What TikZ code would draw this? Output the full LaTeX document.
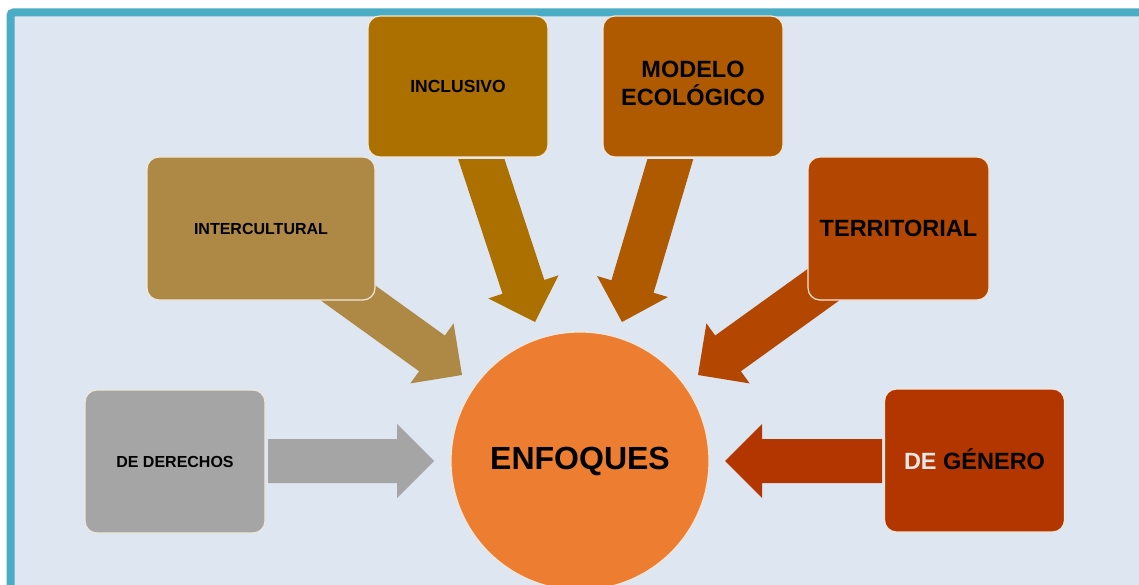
\documentclass[tikz,border=0pt]{standalone}
\usepackage{fontspec}
\setmainfont{Liberation Sans}
\usetikzlibrary{calc}
\definecolor{bg}{HTML}{DDE6F1}
\definecolor{frame}{HTML}{4BACC6}
\definecolor{cIncl}{HTML}{AB7000}
\definecolor{cMod}{HTML}{AF5A00}
\definecolor{cInter}{HTML}{AE8945}
\definecolor{cTerr}{HTML}{B34600}
\definecolor{cGen}{HTML}{B33600}
\definecolor{cDer}{HTML}{A5A5A5}
\definecolor{cCirc}{HTML}{ED7D31}
\definecolor{rim}{HTML}{F1E8DC}
\definecolor{lightde}{HTML}{E8E8E8}
\newcommand\blockarr[3]{%
  \coordinate (hb) at ($(#2)!37pt!(#1)$);
  \fill[#3] ($(#1)!22pt!90:(#2)$) -- ($(hb)!22pt!90:(#2)$) -- ($(hb)!37pt!90:(#2)$)
    -- (#2) -- ($(hb)!37pt!-90:(#2)$) -- ($(hb)!22pt!-90:(#2)$)
    -- ($(#1)!22pt!-90:(#2)$) -- cycle;}
\tikzset{
  box/.style={rectangle, rounded corners=12pt, draw=rim, line width=1.2pt,
    align=center, inner sep=2pt, font=\bfseries},
  small/.style={font=\fontsize{16}{18}\selectfont\bfseries},
  mid/.style={font=\fontsize{23.5}{25}\selectfont\bfseries},
}
\begin{document}
\begin{tikzpicture}[x=1pt,y=-1pt]
\useasboundingbox (0,0) rectangle (1139,585);
\fill[white] (0,0) rectangle (1139,585);
\draw[line width=8pt, draw=frame, fill=bg, rounded corners=3pt] (10.5,12.5) rectangle (1170,620);
% arrow end points
\coordinate (sInter) at (330,280);   \coordinate (tInter) at (462,375);
\coordinate (sTerr) at (830,280);    \coordinate (tTerr) at (698,375);
\coordinate (sIncl) at (475,140);    \coordinate (tIncl) at (535,322);
\coordinate (sMod) at (676,140);     \coordinate (tMod) at (622,322);
\coordinate (sDer) at (268,461);     \coordinate (tDer) at (434,461);
\coordinate (sGen) at (882,461);     \coordinate (tGen) at (725,461);
\blockarr{sInter}{tInter}{cInter}
\blockarr{sTerr}{tTerr}{cTerr}
\begin{scope}
\clip (0,160) rectangle (1139,585);
\blockarr{sIncl}{tIncl}{cIncl}
\blockarr{sMod}{tMod}{cMod}
\end{scope}
\blockarr{sDer}{tDer}{cDer}
\blockarr{sGen}{tGen}{cGen}
% boxes
\node[box, fill=cIncl, minimum width=180pt, minimum height=141pt, font=\fontsize{17.5}{20}\selectfont\bfseries] (incl) at (458,86.5) {\raisebox{1pt}{INCLUSIVO}};
\node[box, fill=cMod, minimum width=180pt, minimum height=141pt, mid] (mod) at (693,86.5) {\raisebox{2pt}{\begin{tabular}{@{}c@{}}MODELO\\ECOLÓGICO\end{tabular}}};
\node[box, fill=cInter, minimum width=228pt, minimum height=143pt, small] (inter) at (261,228.5) {INTERCULTURAL};
\node[box, fill=cTerr, minimum width=181pt, minimum height=143pt, mid] (terr) at (898.5,228.5) {TERRITORIAL};
\node[box, fill=cDer, minimum width=180pt, minimum height=143pt, small] (der) at (175,461.5) {DE DERECHOS};
\node[box, fill=cGen, minimum width=180pt, minimum height=143pt, mid, text height=17pt, text depth=0pt] (gen) at (974.5,460.5) {\textcolor{lightde}{DE} GÉNERO};
\node[circle, fill=cCirc, draw=rim, line width=1.2pt, minimum size=258pt, inner sep=0pt,
  font=\fontsize{32}{36}\selectfont\bfseries] (enf) at (580,461) {ENFOQUES};
\end{tikzpicture}
\end{document}
